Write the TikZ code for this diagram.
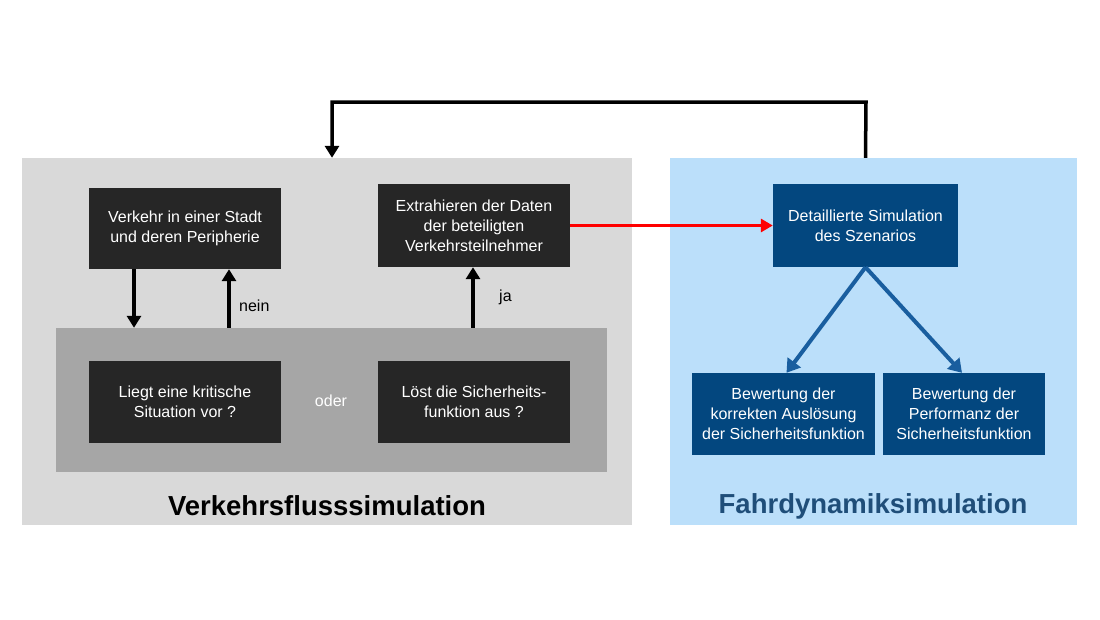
\documentclass[tikz,border=0pt]{standalone}
\usepackage{fontspec}
\setmainfont{Liberation Sans}
\usetikzlibrary{arrows.meta,calc}
\definecolor{panelgray}{HTML}{D9D9D9}
\definecolor{innergray}{HTML}{A6A6A6}
\definecolor{boxdark}{HTML}{262626}
\definecolor{panelblue}{HTML}{BBDFFA}
\definecolor{boxblue}{HTML}{03477F}
\definecolor{titleblue}{HTML}{1F4E79}
\definecolor{arrowblue}{HTML}{195E9F}
\begin{document}
\begin{tikzpicture}[x=1pt,y=-1pt,
  panel/.style={draw=none,rectangle,inner sep=0pt},
  darkbox/.style={rectangle,fill=boxdark,text=white,inner sep=0pt,align=center,
    font=\fontsize{16}{20}\selectfont,minimum width=192pt,minimum height=82pt},
  bluebox/.style={rectangle,fill=boxblue,text=white,inner sep=0pt,align=center,
    font=\fontsize{16}{20}\selectfont,minimum height=82pt},
  blk/.style={line width=3.5pt,black,-{Triangle[width=14pt,length=12pt]}},
  redarr/.style={line width=3pt,red,-{Triangle[width=13pt,length=12pt]}},
  bluearr/.style={line width=4pt,arrowblue,-{Triangle[width=16pt,length=13pt]}},
  lbl/.style={font=\fontsize{16}{19}\selectfont,inner sep=0pt},
  title/.style={font=\fontsize{27.5}{32}\selectfont\bfseries,inner sep=0pt}]
\useasboundingbox[fill=white] (0,0) rectangle (1100,619);
% panels
\node[panel,fill=panelgray,minimum width=610pt,minimum height=367pt] (gray) at (327,341.5) {};
\node[panel,fill=innergray,minimum width=551pt,minimum height=144pt] (inner) at (331.5,400) {};
\node[panel,fill=panelblue,minimum width=407pt,minimum height=367pt] (blue) at (873.5,341.5) {};
% dark boxes
\node[darkbox,minimum height=81pt] (verkehr) at (185,228.5) {Verkehr in einer Stadt\\und deren Peripherie};
\node[darkbox,minimum height=83pt] (extra) at (474,225.5) {Extrahieren der Daten\\der beteiligten\\Verkehrsteilnehmer};
\node[darkbox] (liegt) at (185,402) {Liegt eine kritische\\Situation vor ?};
\node[darkbox] (loest) at (474,402) {Löst die Sicherheits-\\funktion aus ?};
\node[lbl,text=white] (oder) at (331,401) {oder};
% blue boxes
\node[bluebox,minimum width=185pt,minimum height=83pt] (det) at (865.5,225.5) {Detaillierte Simulation\\des Szenarios};
\node[bluebox,minimum width=183pt] (bew1) at (783.5,414) {Bewertung der\\korrekten Auslösung\\der Sicherheitsfunktion};
\node[bluebox,minimum width=162pt] (bew2) at (964,414) {Bewertung der\\Performanz der\\Sicherheitsfunktion};
% titles
\node[title,text=black] (t1) at (327,506) {Verkehrsflusssimulation};
\node[title,text=titleblue] (t2) at (873,506) {Fahrdynamiksimulation};
% arrows left
\draw[blk] ([xshift=-51pt]verkehr.south) -- ([xshift=-51pt]verkehr.south |- inner.north);
\draw[blk] ([xshift=44pt]verkehr.south |- inner.north) -- ([xshift=44pt]verkehr.south);
\node[lbl,anchor=west] (nein) at (239,306) {nein};
\draw[blk] ([xshift=-1pt]extra.south |- inner.north) -- ([xshift=-1pt]extra.south);
\node[lbl,anchor=west] (ja) at (499,297) {ja};
% red arrow
\draw[redarr] (extra.east) -- (det.west);
% blue arrows
\draw[bluearr] (det.south) -- ([xshift=3pt]bew1.north);
\draw[bluearr] (det.south) -- ([xshift=-2pt]bew2.north);
% feedback
\coordinate (fbtop) at (866,102);
\draw[blk] (det.north |- blue.north) -- (fbtop) -| ([xshift=5pt]gray.north);
\end{tikzpicture}
\end{document}
